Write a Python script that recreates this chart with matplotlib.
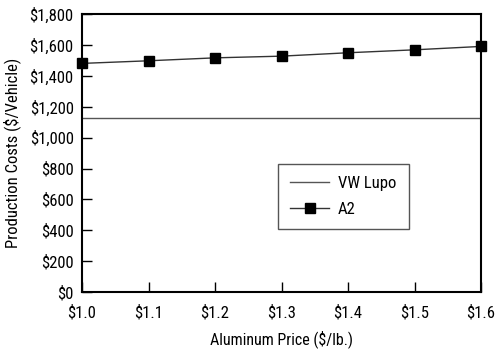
import numpy as np
import matplotlib.pyplot as plt
from matplotlib.ticker import FuncFormatter

# data
price = [1.0, 1.1, 1.2, 1.3, 1.4, 1.5, 1.6]
a2    = [1481, 1498, 1517, 1528, 1550, 1569, 1591]
lupo  = [1125, 1125, 1125, 1125, 1125, 1125, 1125]

plt.rcParams['font.family'] = ['Roboto Condensed', 'DejaVu Sans']
plt.rcParams['font.size'] = 11

fig = plt.figure(figsize=(5.0, 3.54), dpi=100)
ax = fig.add_axes([0.164, 0.175, 0.798, 0.785])

ax.plot(price, lupo, color='#555555', lw=1, label='VW Lupo')
ax.plot(price, a2, color='#333333', lw=1, marker='s', ms=7,
        mfc='black', mec='black', label='A2', clip_on=False, zorder=5)

ax.set_xlim(1.0, 1.6)
ax.set_ylim(0, 1800)
ax.set_xticks(price)
ax.set_yticks(np.arange(0, 1801, 200))
ax.xaxis.set_major_formatter(FuncFormatter(lambda v, p: '$%.1f' % v))
ax.yaxis.set_major_formatter(FuncFormatter(lambda v, p: '${:,.0f}'.format(v)))
ax.tick_params(direction='in', length=7, width=1, labelsize=12)
ax.tick_params(axis='x', pad=9)
ax.tick_params(axis='y', pad=6)
for s in ax.spines.values():
  s.set_linewidth(1.5)

ax.set_xlabel('Aluminum Price ($/lb.)', fontsize=11.5, labelpad=7)
ax.set_ylabel('Production Costs ($/Vehicle)', fontsize=12, labelpad=6)

leg = ax.legend(loc='upper left', bbox_to_anchor=(0.47, 0.492), fancybox=False,
                edgecolor='#555555', framealpha=1, borderpad=0.75,
                handlelength=2.3, handletextpad=0.55, labelspacing=0.65, fontsize=12)
leg.get_frame().set_linewidth(1)

fig.savefig('out.png', dpi=100)
